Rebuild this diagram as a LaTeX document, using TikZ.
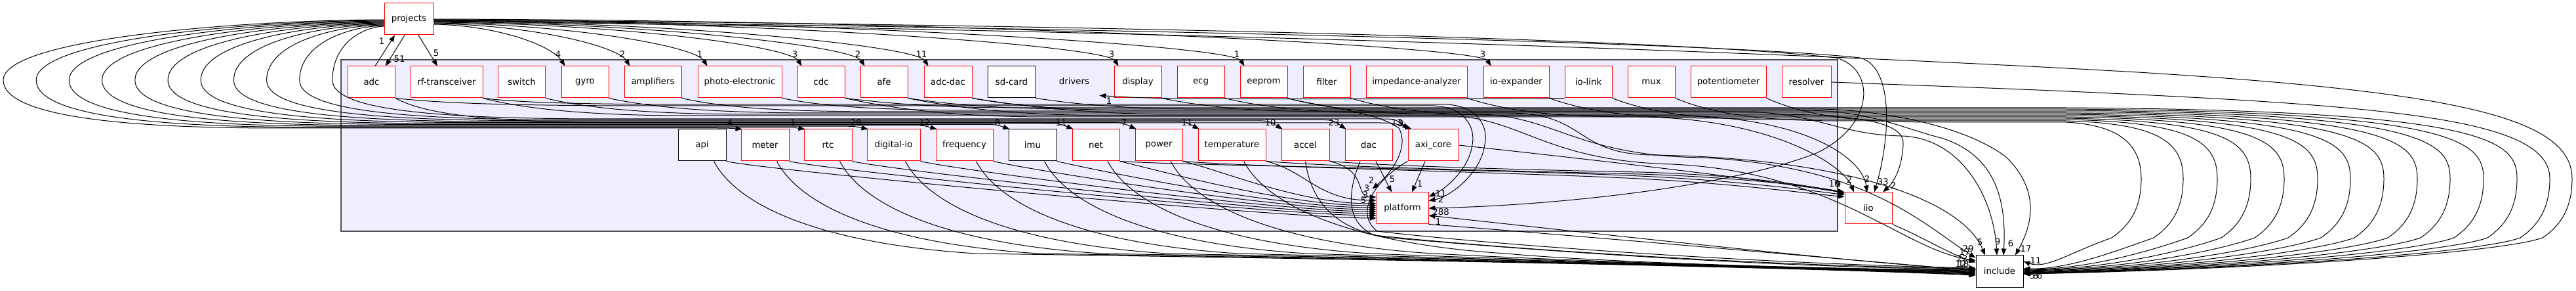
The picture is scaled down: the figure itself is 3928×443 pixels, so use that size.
\documentclass[tikz,border=0pt]{standalone}
\usepackage{fontspec}
\setmainfont{DejaVu Sans}
\usetikzlibrary{arrows.meta}
\definecolor{clfill}{HTML}{EEEEFF}
\definecolor{clline}{HTML}{505050}
\begin{document}
\begin{tikzpicture}[x=1pt,y=-1pt,
  every node/.style={font=\fontsize{13.3}{16}\selectfont},
  box/.style={draw=red,line width=1pt,fill=white,minimum width=72pt,minimum height=48pt,inner sep=0pt},
  bbox/.style={box,draw=black},
  e/.style={draw=black,line width=1pt,-{Triangle[length=10pt,width=7.5pt]}},
  lab/.style={inner sep=0pt},
  cluster/.style={draw=clline,line width=1.3pt,fill=clfill,inner sep=0pt}]
\useasboundingbox (0,0) rectangle (3928,443);
\fill[white] (0,0) rectangle (3928,443);
\node[cluster,minimum width=2282pt,minimum height=261pt] (frame) at (1661,221.5) {};
% nodes
\node[box,minimum width=75pt] (projects) at (623.5,29) {projects};
\node[box] (adc) at (566.5,125) {adc};
\node[box,minimum width=110pt] (rf) at (681,125) {rf-transceiver};
\node[box] (switch) at (795.5,125) {switch};
\node[box] (gyro) at (892,125) {gyro};
\node[box,minimum width=87pt] (ampl) at (995.5,125) {amplifiers};
\node[box,minimum width=128pt] (photo) at (1128,125) {photo-electronic};
\node[box] (cdc) at (1252,125) {cdc};
\node[box] (afe) at (1348,125) {afe};
\node[box,minimum width=73pt] (adcdac) at (1445.5,125) {adc-dac};
\node[bbox,minimum width=73pt] (sdcard) at (1542.5,125) {sd-card};
\node[lab,minimum width=76pt,minimum height=42pt] (drivers) at (1638,124) {drivers};
\node[box] (display) at (1735,125) {display};
\node[box] (ecg) at (1831,125) {ecg};
\node[box] (eeprom) at (1927,125) {eeprom};
\node[box] (filter) at (2023,125) {filter};
\node[box,minimum width=154pt] (imped) at (2160,125) {impedance-analyzer};
\node[box,minimum width=100pt] (ioexp) at (2312,125) {io-expander};
\node[box] (iolink) at (2422,125) {io-link};
\node[box] (mux) at (2518,125) {mux};
\node[box,minimum width=115pt] (pot) at (2635.5,125) {potentiometer};
\node[box,minimum width=75pt] (resolver) at (2754.5,125) {resolver};
\node[bbox,minimum width=73pt] (api) at (1070.5,221) {api};
\node[box,minimum width=73pt] (meter) at (1166.5,221) {meter};
\node[box,minimum width=73pt] (rtc) at (1262.5,221) {rtc};
\node[box,minimum width=81pt] (dio) at (1362.5,221) {digital-io};
\node[box,minimum width=87pt] (freq) at (1470.5,221) {frequency};
\node[bbox,minimum width=73pt] (imu) at (1574.5,221) {imu};
\node[box] (net) at (1671,221) {net};
\node[box] (power) at (1767,221) {power};
\node[box,minimum width=103pt] (temp) at (1878.5,221) {temperature};
\node[box,minimum width=73pt] (accel) at (1990.5,221) {accel};
\node[box] (dac) at (2087,221) {dac};
\node[box,minimum width=77pt] (axi) at (2185.5,221) {axi\_core};
\node[box,minimum width=79pt] (platform) at (2138.5,317) {platform};
\node[box] (iio) at (2849,317) {iio};
\node[bbox] (include) at (3049,413) {include};
% projects <-> adc, rf
\draw[e] ([xshift=-6.5pt]projects.south) -- ([xshift=21.5pt]adc.north);
\draw[e] ([xshift=5.5pt]adc.north) -- ([xshift=-21.5pt]projects.south);
\draw[e] ([xshift=14.5pt]projects.south) -- ([xshift=-14pt]rf.north);
\node[lab] (L1) at (609,90) {51};
\node[lab] (L2) at (582,63) {1};
\node[lab] (L3) at (665,81) {5};
% projects -> first row
\foreach \t/\tx/\o/\dy/\lx/\lb [count=\i] in {gyro/862/6/8/851/4, ampl/961/9/7/949/2, photo/1079/15/6/1067/1, cdc/1223/7/5/1212/3, afe/1319/7/4/1308/2, adcdac/1416/7/3/1405/11, display/1706/7/2/1695/3, eeprom/1898/7/1/1886/1, ioexp/2274/12/0/2261/3}{
  \draw[e] ([yshift=-\dy pt]projects.east) .. controls ({661+0.5*(\tx-661)},{31+\dy}) and ({\tx-20},70) .. ([xshift=\o pt]\t.north west);
  \node[lab] (pl\i) at (\lx,83) {\lb};
}
% projects -> iio, platform, include
\draw[e] ([yshift=-2pt]projects.east) .. controls (1500,40) and (2600,62) .. (2836,88) .. controls (2885,100) and (2885,200) .. ([xshift=9pt]iio.north);
\draw[e] ([yshift=-1pt]projects.east) .. controls (1500,36) and (2500,55) .. (2800,88) .. controls (2860,105) and (2860,190) .. (2770,233) .. controls (2650,280) and (2400,312) .. (platform.east);
\draw[e] ([yshift=-3pt]projects.east) .. controls (1600,44) and (2600,72) .. (3260,110) .. controls (3750,140) and (3922,180) .. (3922,272) .. controls (3922,320) and (3902,345) .. (3877,362) .. controls (3812,385) and (3450,410) .. ([yshift=-4pt]include.east);
\node[lab] (L4) at (2871,277) {33};
\node[lab] (L5) at (2197,323) {288};
% resolver -> include
\draw[e] (resolver.east) .. controls (2950,131) and (3100,136) .. (3260,144) .. controls (3700,165) and (3888,190) .. (3888,272) .. controls (3888,320) and (3868,345) .. (3843,362) .. controls (3780,385) and (3430,410) .. ([yshift=-3pt]include.east);
% first row -> include, loops on the right
\foreach \s/\sx/\xm/\yb/\dy in {pot/2693/3265/186/15, mux/2554/3329/184/4, iolink/2458/3381/182/3, ioexp/2362/3432/180/2, imped/2237/3483/178/1, filter/2059/3534/176/0, eeprom/1963/3584/174/-1, ecg/1867/3635/172/-2, display/1771/3686/170/-2, adcdac/1482/3736/168/-3, afe/1384/3787/166/-3, cdc/1288/3838/164/-4}{
  \draw[e] (\s.south east) .. controls ({\sx+70},{\yb-6}) and ({\sx+150},\yb) .. ({\sx+260},\yb) -- (3150,\yb) .. controls ({\xm-40},{\yb+4}) and (\xm,215) .. (\xm,272) .. controls (\xm,320) and ({\xm-20},345) .. ({\xm-45},362) .. controls ({\xm-110},385) and ({3085+0.5*(\xm-3195)},410) .. ([yshift=\dy pt]include.east);
}
% first row -> include top
\draw[e] (gyro.south east) .. controls (1000,165) and (1100,172) .. (1250,172) -- (2300,172) .. controls (2420,172) and (2400,235) .. (2520,236) .. controls (2800,240) and (2990,300) .. ([xshift=-22pt]include.north);
\draw[e] (ampl.south east) .. controls (1110,165) and (1200,170) .. (1350,170) -- (2650,170) .. controls (2770,170) and (2800,205) .. (2900,207) .. controls (2990,210) and (3040,300) .. ([xshift=-4pt]include.north);
\draw[e] (photo.south east) .. controls (1260,163) and (1350,168) .. (1500,168) -- (2750,168) .. controls (2850,168) and (2900,195) .. (2960,210) .. controls (3040,235) and (3060,300) .. ([xshift=6pt]include.north);
\draw[e] (sdcard.south east) .. controls (1650,160) and (1720,166) .. (1850,166) -- (2780,166) .. controls (2900,170) and (3010,200) .. (3060,240) .. controls (3110,290) and (3100,340) .. ([xshift=24pt]include.north);
\draw[e] (switch.south east) .. controls (900,166) and (1000,174) .. (1150,174) -- (2250,174) .. controls (2370,174) and (2400,238) .. (2600,240) .. controls (2850,255) and (2930,340) .. ([yshift=-4pt]include.north west);
\draw[e] (rf.south east) .. controls (800,166) and (900,176) .. (1050,176) -- (2200,176) .. controls (2320,176) and (2350,245) .. (2550,250) .. controls (2800,262) and (2900,380) .. ([yshift=-8pt]include.north west);
\node[lab] (L6) at (3019,369) {5};
\node[lab] (L7) at (3046,368) {9};
\node[lab] (L8) at (3066,371) {6};
\node[lab] (L9) at (3089,379) {17};
\node[lab] (L10) at (3001,379) {29};
\node[lab] (L11) at (2996,384) {17};
% first row -> iio
\draw[e] (cdc.south east) .. controls (1360,165) and (1450,178) .. (1600,178) -- (2500,178) .. controls (2700,180) and (2810,250) .. ([xshift=-22pt]iio.north);
\draw[e] (afe.south east) .. controls (1450,163) and (1550,176) .. (1700,176) -- (2550,176) .. controls (2750,176) and (2840,240) .. ([xshift=-2pt]iio.north);
\draw[e] (adcdac.south east) .. controls (1550,160) and (1650,174) .. (1800,174) -- (2700,174) .. controls (2850,174) and (2905,190) .. (2902,220) .. controls (2900,260) and (2885,280) .. ([xshift=22pt]iio.north);
\node[lab] (L12) at (2820,274) {2};
\node[lab] (L13) at (2847,273) {2};
\node[lab] (L14) at (2887,283) {2};
% first row -> platform
\draw[e] (adc.south east) .. controls (680,158) and (800,161) .. (1000,161) -- (2186,161) .. controls (2235,163) and (2250,195) .. (2245,220) .. controls (2240,260) and (2200,290) .. ([yshift=-7pt]platform.north east);
\draw[e] (rf.south east) .. controls (800,157) and (900,159) .. (1100,159) -- (2205,159) .. controls (2255,161) and (2270,195) .. (2264,220) .. controls (2258,265) and (2210,300) .. ([yshift=-13pt]platform.north east);
\draw[e] (eeprom.south east) .. controls (2000,160) and (2100,170) .. (2133,195) .. controls (2150,225) and (2120,265) .. ([shift={(-6,-5)}]platform.north west);
\node[lab] (L15) at (2197,295) {11};
\node[lab] (L16) at (2197,304) {2};
\node[lab] (L17) at (2091,275) {2};
% -> drivers
\draw[e] (iolink.south west) .. controls (2300,151) and (2000,151) .. (1800,150) .. controls (1730,149) and (1700,147) .. (drivers.south east);
\node[lab] (L18) at (1691,154) {1};
% projects -> second row, loops on the left
\foreach \t/\tl/\k/\lb in {meter/1130/0/4, rtc/1226/1/1, dio/1322/2/28, freq/1427/3/12, imu/1538/4/8, net/1635/5/11, power/1731/6/7, temp/1827/7/11, accel/1954/8/10, dac/2051/9/23, axi/2147/10/13}{
  \pgfmathsetmacro\xm{5+50.2*\k}
  \pgfmathsetmacro\yr{195-1.4*\k}
  \pgfmathsetmacro\sy{31+\k}
  \draw[e] ([yshift=-\k pt-1pt]projects.west) .. controls ({\xm+0.6*(586-\xm)},\sy) and (\xm,{60+0.5*\k}) .. (\xm,122) .. controls (\xm,{172-0.5*\k}) and ({\xm+150},\yr) .. ({\xm+420},\yr) -- ({\tl-45},\yr) .. controls ({\tl-20},\yr) .. ([xshift=2pt]\t.north west);
  \node[lab] (ll\k) at ({\tl-17},187) {\lb};
}
\draw[e] (adc.south east) .. controls (650,175) and (750,186) .. (950,187) -- (2100,187) .. controls (2125,187) .. ([xshift=6pt]axi.north west);
\node[lab] (L19) at (2136,188) {9};
% second row -> platform
\foreach \s/\d/\cx in {api/-15/1950, meter/-11/1950, rtc/-8/1950, dio/-5/1950, freq/-2/1950, imu/1/1950, net/4/1960, power/7/1980, temp/12/2010, accel/17/2065}{
  \draw[e] (\s.south east) .. controls +(60,14) and (\cx,{317-\d}) .. ([yshift=\d pt]platform.west);
}
\draw[e] ([xshift=11pt]dac.south) -- ([xshift=-16.5pt]platform.north);
\draw[e] ([xshift=-12.5pt]axi.south) -- ([xshift=14.5pt]platform.north);
\node[lab] (L20) at (2123,273) {5};
\node[lab] (L21) at (2165,280) {1};
\node[lab] (L22) at (2084,287) {3};
\node[lab] (L23) at (2082,297) {3};
\node[lab] (L24) at (2079,305) {5};
% second row -> include
\foreach \s/\nx/\d in {api/1088/-6, meter/1184/-5, rtc/1280/-4, dio/1380/-3, freq/1488/-2, imu/1592/-1, net/1689/0, power/1785/1, temp/1896/2}{
  \draw[e] ([xshift=18pt]\s.south) .. controls ({\nx+40},320) and ({\nx+180},372) .. ({\nx+400},386) .. controls (2450,400) and (2800,410) .. ([yshift=\d pt]include.west);
}
\draw[e] (accel.south) .. controls (1998,300) and (2030,350) .. (2120,362) .. controls (2500,395) and (2800,408) .. ([yshift=3pt]include.west);
\draw[e] ([xshift=-13pt]dac.south) .. controls (2060,280) and (2045,335) .. (2095,358) .. controls (2300,380) and (2700,405) .. ([yshift=4pt]include.west);
\draw[e] (axi.south west) .. controls (2095,275) and (2065,325) .. (2100,352) .. controls (2300,375) and (2700,402) .. ([yshift=5pt]include.west);
% second row -> iio
\draw[e] (temp.south east) .. controls (2050,255) and (2300,260) .. (2500,265) .. controls (2650,270) and (2760,283) .. (iio.north west);
\draw[e] (net.south east) .. controls (1800,252) and (2300,258) .. (2500,268) .. controls (2650,275) and (2760,290) .. ([yshift=-4pt]iio.north west);
\draw[e] (power.south east) .. controls (1900,254) and (2300,262) .. (2500,272) .. controls (2650,280) and (2760,295) .. ([yshift=-7pt]iio.north west);
\draw[e] (accel.south east) .. controls (2100,252) and (2300,258) .. (2500,262) .. controls (2650,266) and (2760,282) .. ([yshift=-2pt]iio.north west);
\draw[e] (axi.east) .. controls (2400,240) and (2650,268) .. ([yshift=-1pt]iio.north west);
\node[lab] (L25) at (2797,280) {10};
\node[lab] (L26) at (2803,281) {9};
% platform, iio <-> include
\draw[e] (platform.south east) .. controls (2400,358) and (2850,398) .. ([yshift=1pt]include.west);
\draw[e] ([yshift=2pt]include.west) .. controls (2850,402) and (2400,352) .. ([yshift=-11pt]platform.east);
\node[lab] (L27) at (2193,338) {1};
\draw[e] (iio.south east) .. controls (2930,360) and (2970,385) .. ([yshift=-11pt]include.north west);
\node[lab] (L28) at (2992,394) {22};
\node[lab] (L29) at (2990,402) {12};
\node[lab] (L30) at (2994,402) {18};
\node[lab] (L31) at (3104,397) {11};
\node[lab] (L32) at (3099,420) {5};
\node[lab] (L33) at (3104,420) {8};
\node[lab] (L34) at (3110,420) {6};
\end{tikzpicture}
\end{document}
